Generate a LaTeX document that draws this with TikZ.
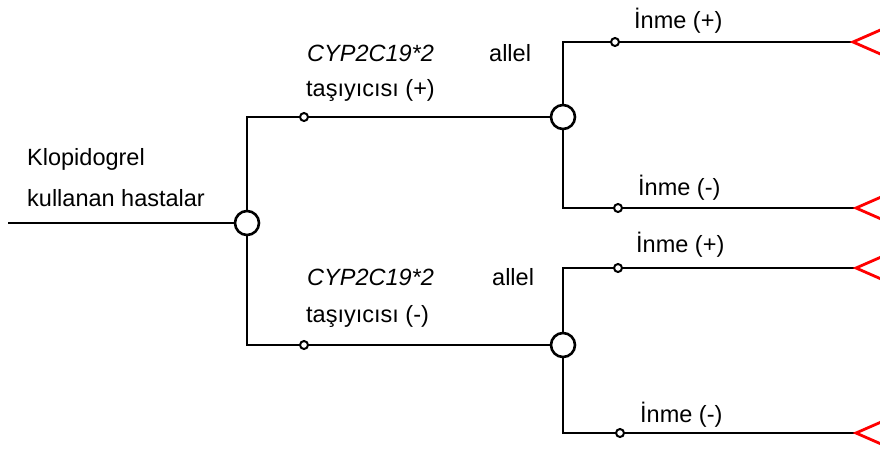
\documentclass[tikz,border=0pt]{standalone}
\usepackage{fontspec}
\setmainfont{Liberation Sans}
\begin{document}
\begin{tikzpicture}[x=1pt,y=-1pt,
 line/.style={line width=2.2pt},
 chance/.style={circle,draw,line width=2.6pt,fill=white,minimum size=24pt,inner sep=0pt},
 dot/.style={circle,draw,line width=2pt,fill=white,minimum size=8pt,inner sep=0pt},
 lbl/.style={anchor=base west,inner sep=0pt,font=\fontsize{23.5}{28}\selectfont},
 term/.style={draw=red,line width=2.8pt,line join=miter}]
\useasboundingbox (0,0) rectangle (880,448);
\clip (0,0) rectangle (880,448);
% nodes
\coordinate (in) at (8,223);
\node[chance] (c0) at (247,223) {};
\coordinate (j1) at (247,117);
\coordinate (j2) at (247,345);
\node[dot] (d1) at (304,117) {};
\node[dot] (d2) at (304,345) {};
\node[chance] (c1) at (563,117) {};
\node[chance] (c2) at (563,345) {};
\coordinate (j11) at (563,42);
\coordinate (j12) at (563,208);
\coordinate (j21) at (563,268);
\coordinate (j22) at (563,433);
\node[dot] (d11) at (615,42) {};
\node[dot] (d12) at (618,208) {};
\node[dot] (d21) at (618,268) {};
\node[dot] (d22) at (620,433) {};
\coordinate (t11) at (853,42);
\coordinate (t12) at (856,208);
\coordinate (t21) at (856,268);
\coordinate (t22) at (856,433);
% connectors
\draw[line] (in) -- (c0);
\draw[line] (c0) -- (j1) -- (d1) -- (c1);
\draw[line] (c0) -- (j2) -- (d2) -- (c2);
\draw[line] (c1) -- (j11) -- (d11) -- (t11);
\draw[line] (c1) -- (j12) -- (d12) -- (t12);
\draw[line] (c2) -- (j21) -- (d21) -- (t21);
\draw[line] (c2) -- (j22) -- (d22) -- (t22);
% terminal triangles
\foreach \t in {t11,t12,t21,t22}{
  \draw[term] (\t) -- ++(32,-14) -- ++(0,28) -- cycle;
}
% labels
\node[lbl] (k1) at (27,165) {Klopidogrel};
\node[lbl] (k2) at (27,206) {kullanan hastalar};
\node[lbl] (g1) at (307,61) {\itshape CYP2C19*2};
\node[lbl] (al1) at (489,61) {allel};
\node[lbl] (ta1) at (306,96) {taşıyıcısı (+)};
\node[lbl] (g2) at (307,285) {\itshape CYP2C19*2};
\node[lbl] (al2) at (492,285) {allel};
\node[lbl] (ta2) at (306,322) {taşıyıcısı (-)};
\node[lbl] (i11) at (634,28) {İnme (+)};
\node[lbl] (i12) at (638,195) {İnme (-)};
\node[lbl] (i21) at (636,252) {İnme (+)};
\node[lbl] (i22) at (640,422) {İnme (-)};
\end{tikzpicture}
\end{document}
